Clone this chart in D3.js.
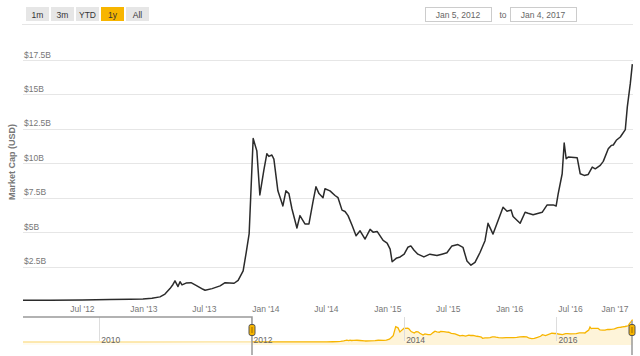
<!DOCTYPE html>
<html>
<head>
<meta charset="utf-8">
<script src="https://cdn.jsdelivr.net/npm/d3@7"></script>
<style>
  body { margin: 0; background: #fff; }
  svg { font-family: "Liberation Sans", Arial, sans-serif; }
</style>
</head>
<body>
<div id="chart"></div>
<script>
// market cap, billions of USD
const dates = [
  "2012-01-05","2012-03-26","2012-06-30","2012-09-21","2012-11-20","2012-12-29",
  "2013-01-25","2013-02-18","2013-03-05","2013-03-20","2013-03-29","2013-04-04","2013-04-13","2013-04-19","2013-04-25",
  "2013-05-07","2013-05-22","2013-06-06","2013-06-27","2013-07-03","2013-07-24","2013-08-17","2013-09-01","2013-09-28",
  "2013-10-10","2013-10-25","2013-11-03","2013-11-12","2013-11-24","2013-12-05","2013-12-14","2013-12-26",
  "2014-01-04","2014-01-10","2014-01-19","2014-01-25","2014-02-06","2014-02-21","2014-03-02","2014-03-11","2014-03-20",
  "2014-04-04","2014-04-13","2014-04-28","2014-05-10","2014-05-22","2014-05-31","2014-06-09","2014-06-21","2014-06-27",
  "2014-07-12","2014-07-27","2014-08-05","2014-08-17","2014-08-26","2014-09-04","2014-09-16","2014-09-28","2014-10-10",
  "2014-10-25","2014-11-09","2014-11-18","2014-11-30","2014-12-18","2014-12-30",
  "2015-01-08","2015-01-14","2015-01-26","2015-02-07","2015-02-19","2015-03-02","2015-03-11","2015-03-20","2015-04-01",
  "2015-04-19","2015-05-07","2015-05-28","2015-06-12","2015-06-27","2015-07-12","2015-07-30","2015-08-14","2015-08-26",
  "2015-09-07","2015-09-19","2015-10-04","2015-10-19","2015-10-28","2015-11-12","2015-12-12","2015-12-24",
  "2016-01-05","2016-01-11","2016-02-01","2016-02-16","2016-02-25","2016-03-11","2016-04-07","2016-04-22","2016-05-10",
  "2016-05-19","2016-05-25","2016-06-06","2016-06-12","2016-06-18","2016-06-24","2016-07-21","2016-07-30","2016-08-11",
  "2016-08-23","2016-09-04","2016-09-13","2016-09-28","2016-10-07","2016-10-22","2016-10-31","2016-11-06","2016-11-15",
  "2016-11-27","2016-12-12","2016-12-18","2016-12-27","2017-01-02"
];
const capB = [
  0.05,0.05,0.07,0.1,0.12,0.14,
  0.2,0.3,0.5,0.9,1.2,1.46,1.05,1.4,1.17,
  1.3,1.33,1.14,0.85,0.78,0.9,1.1,1.33,1.29,
  1.5,2.19,3.5,4.9,11.8,10.9,7.7,9.5,
  10.7,10.5,10.6,10.3,8.0,6.9,8.0,7.8,6.7,
  5.3,6.2,5.6,5.6,7.2,8.3,7.8,7.5,8.15,
  8.0,7.66,7.5,6.6,6.5,6.2,5.5,4.74,5.1,
  4.5,5.2,5.0,5.05,4.4,4.2,
  3.77,2.85,3.1,3.2,3.4,3.9,4.0,3.7,3.4,
  3.2,3.4,3.3,3.4,3.5,4.0,4.1,3.9,2.9,
  2.6,2.8,3.52,4.38,5.64,4.86,6.81,6.52,
  6.61,6.13,5.64,6.44,6.37,6.27,6.44,6.98,6.98,
  6.9,7.78,9.24,11.47,10.33,10.45,10.4,9.24,9.12,
  9.19,9.72,9.6,9.85,10.14,11.06,11.3,11.33,11.67,
  11.91,12.45,14.1,15.8,17.2
];
// earlier history, only shown in the navigator
const earlyDates = ["2009-01-03","2010-07-15","2011-06-08","2011-10-20"];
const earlyCapB = [0, 0.01, 0.15, 0.04];

const rangeButtons = ["1m", "3m", "YTD", "1y", "All"];
const activeButton = "1y";
const fromLabel = "Jan 5, 2012";
const toLabel = "Jan 4, 2017";
const yTicks = [2.5, 5, 7.5, 10, 12.5, 15, 17.5];
const axisTitle = "Market Cap (USD)";

const width = 640, height = 356;
const plot = { left: 23, right: 633, top: 27, bottom: 301 };
const nav = { top: 317, bottom: 345 };

const parse = d3.timeParse("%Y-%m-%d");
const series = dates.map((d, i) => ({ date: parse(d), v: capB[i] }));
const navSeries = earlyDates.map((d, i) => ({ date: parse(d), v: earlyCapB[i] })).concat(series);
const startDate = parse("2012-01-05"), endDate = parse("2017-01-04");

const svg = d3.select("#chart").append("svg")
    .attr("width", width)
    .attr("height", height);

// range selector buttons
const btnW = 23, btnGap = 2;
const buttons = svg.append("g").selectAll("g")
    .data(rangeButtons)
    .enter().append("g")
    .attr("transform", (d, i) => `translate(${26 + i * (btnW + btnGap)},7)`);
buttons.append("rect")
    .attr("width", btnW).attr("height", 14)
    .attr("fill", d => d === activeButton ? "#f7b500" : "#e6e6e6");
buttons.append("text")
    .attr("x", btnW / 2).attr("y", 10.5)
    .attr("text-anchor", "middle")
    .attr("font-size", 8.5)
    .attr("fill", "#333")
    .text(d => d);

// date inputs
[[fromLabel, 425], [toLabel, 510]].forEach(([label, x]) => {
    svg.append("rect").attr("x", x + 0.5).attr("y", 7.5).attr("width", 66).attr("height", 14)
        .attr("fill", "#fff").attr("stroke", "#ccc");
    svg.append("text").attr("x", x + 33).attr("y", 18).attr("text-anchor", "middle")
        .attr("font-size", 8.5).attr("fill", "#666").text(label);
});
svg.append("text").attr("x", 503).attr("y", 18).attr("text-anchor", "middle")
    .attr("font-size", 8.5).attr("fill", "#666").text("to");

svg.append("line")
    .attr("x1", 22).attr("x2", plot.right).attr("y1", 24.5).attr("y2", 24.5)
    .attr("stroke", "#e6e6e6");

// scales
const x = d3.scaleTime().domain([startDate, endDate]).range([plot.left, plot.right]);
const y = d3.scaleLinear().domain([0, 17.5]).range([plot.bottom, 60]);

// gridlines + y labels
svg.append("g").selectAll("line")
    .data(yTicks)
    .enter().append("line")
    .attr("x1", plot.left).attr("x2", plot.right)
    .attr("y1", d => Math.round(y(d)) + 0.5).attr("y2", d => Math.round(y(d)) + 0.5)
    .attr("stroke", "#e6e6e6");
svg.append("g").selectAll("text")
    .data(yTicks)
    .enter().append("text")
    .attr("x", 24).attr("y", d => y(d) - 2.5)
    .attr("font-size", 8.5).attr("fill", "#777")
    .text(d => "$" + d + "B");

svg.append("text")
    .attr("transform", "translate(15,162) rotate(-90)")
    .attr("text-anchor", "middle")
    .attr("font-size", 9).attr("font-weight", "bold").attr("fill", "#777")
    .text(axisTitle);

// x labels (Highcharts style: last one pulled inside the plot)
const fmt = d3.timeFormat("%b '%y");
svg.append("g").selectAll("text")
    .data(x.ticks(d3.timeMonth.every(6)))
    .enter().append("text")
    .attr("x", d => Math.min(x(d), plot.right - 18))
    .attr("y", 312)
    .attr("text-anchor", "middle")
    .attr("font-size", 8.5).attr("fill", "#777")
    .text(d => fmt(d));

// main line
svg.append("defs").append("clipPath").attr("id", "clip")
    .append("rect").attr("x", plot.left).attr("y", plot.top)
    .attr("width", plot.right - plot.left).attr("height", plot.bottom - plot.top + 2);

svg.append("path")
    .datum(series)
    .attr("clip-path", "url(#clip)")
    .attr("fill", "none")
    .attr("stroke", "#2b2b2b")
    .attr("stroke-width", 1.5)
    .attr("stroke-linejoin", "round")
    .attr("d", d3.line().x(d => x(d.date)).y(d => y(d.v)));

// navigator
const xNav = d3.scaleTime().domain([parse("2009-01-03"), endDate]).range([plot.left, plot.right]);
const yNav = d3.scaleLinear().domain([0, 19.2]).range([342, nav.top]);
const navTicks = xNav.ticks(d3.timeYear.every(2));
const hx0 = Math.round(xNav(startDate)), hx1 = Math.round(xNav(endDate)) - 1;

svg.append("path")
    .datum(navSeries)
    .attr("fill", "#f7b500").attr("fill-opacity", 0.15)
    .attr("d", d3.area().x(d => xNav(d.date)).y0(nav.bottom).y1(d => yNav(d.v)));
svg.append("path")
    .datum(navSeries)
    .attr("fill", "none")
    .attr("stroke", "#f7b500")
    .attr("stroke-width", 1.3)
    .attr("d", d3.line().x(d => xNav(d.date)).y(d => yNav(d.v)));

// fade the part outside the selection
svg.append("rect")
    .attr("x", plot.left).attr("y", nav.top)
    .attr("width", hx0 - plot.left).attr("height", nav.bottom - nav.top + 1)
    .attr("fill", "#fff").attr("fill-opacity", 0.6);

svg.append("g").selectAll("line")
    .data(navTicks)
    .enter().append("line")
    .attr("x1", d => Math.round(xNav(d)) + 0.5).attr("x2", d => Math.round(xNav(d)) + 0.5)
    .attr("y1", nav.top).attr("y2", nav.bottom - 4)
    .attr("stroke", "#ddd");

svg.append("g").selectAll("text")
    .data(navTicks)
    .enter().append("text")
    .attr("x", d => xNav(d) + 2.5).attr("y", 342.5)
    .attr("font-size", 8.5).attr("fill", "#666")
    .text(d => d3.timeFormat("%Y")(d));

// outline
svg.append("path")
    .attr("d", `M${plot.left},${nav.top}H${hx0}V355M${hx1},${nav.top + 4}V355`)
    .attr("fill", "none")
    .attr("stroke", "#999")
    .attr("stroke-width", 1.5);

// handles
[hx0, hx1].forEach(hx => {
    const g = svg.append("g").attr("transform", `translate(${hx},330)`);
    g.append("rect")
        .attr("x", -3).attr("y", -5.5).attr("width", 6).attr("height", 11).attr("rx", 2)
        .attr("fill", "#f7b500").attr("stroke", "#555").attr("stroke-width", 1);
    g.append("rect")
        .attr("x", -1).attr("y", -3).attr("width", 2).attr("height", 6)
        .attr("fill", "#c98f00");
});
</script>
</body>
</html>
